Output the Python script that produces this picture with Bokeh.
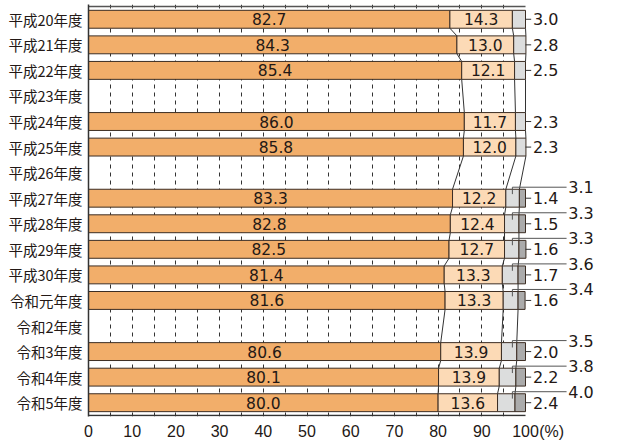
import math
from bokeh.plotting import figure
from bokeh.models import Range1d, FixedTicker, ColumnDataSource
from bokeh.embed import file_html
from bokeh.resources import INLINE
from bokeh.core.properties import value

NaN = float("nan")
years = ["平成20年度", "平成21年度", "平成22年度", "平成23年度", "平成24年度", "平成25年度",
         "平成26年度", "平成27年度", "平成28年度", "平成29年度", "平成30年度", "令和元年度",
         "令和2年度", "令和3年度", "令和4年度", "令和5年度"]
s1 = [82.7, 84.3, 85.4, NaN, 86.0, 85.8, NaN, 83.3, 82.8, 82.5, 81.4, 81.6, NaN, 80.6, 80.1, 80.0]
s2 = [14.3, 13.0, 12.1, NaN, 11.7, 12.0, NaN, 12.2, 12.4, 12.7, 13.3, 13.3, NaN, 13.9, 13.9, 13.6]
s3 = [3.0, 2.8, 2.5, NaN, 2.3, 2.3, NaN, 3.1, 3.3, 3.3, 3.6, 3.4, NaN, 3.5, 3.8, 4.0]
s4 = [NaN, NaN, NaN, NaN, NaN, NaN, NaN, 1.4, 1.5, 1.6, 1.7, 1.6, NaN, 2.0, 2.2, 2.4]
x_ticks = [0, 10, 20, 30, 40, 50, 60, 70, 80, 90, 100]
unit_label = "(%)"
grid_ticks = [5, 10, 15, 20, 25, 30, 35, 40, 45, 50, 55, 60, 65, 70, 75, 80, 85, 90, 95]

C1, C2, C3, C4 = "#F2AE6A", "#FCDAB6", "#DCDDDD", "#ABABAB"
EDGE = "#3C2D23"
TXT = "#231815"
NUMFONT = value("DejaVu Sans")
H = 0.7
UNIT_POS = 106

def isnan(v):
    return v is None or (isinstance(v, float) and math.isnan(v))

p = figure(width=628, height=443, frame_width=540, frame_height=412,
           min_border_left=88, min_border_right=0, min_border_top=4, min_border_bottom=27,
           x_range=Range1d(0, 540 / 4.37), y_range=Range1d(15.54, -0.578),
           output_backend="svg", toolbar_location=None)
p.outline_line_color = None
p.background_fill_color = "white"
p.border_fill_color = "white"

# grid
p.ygrid.grid_line_color = None
p.xgrid.ticker = FixedTicker(ticks=grid_ticks)
p.xgrid.grid_line_color = "#333333"
p.xgrid.grid_line_dash = "4 4"
p.xgrid.grid_line_width = 1

# x axis
p.xaxis.ticker = FixedTicker(ticks=x_ticks + [UNIT_POS])
p.xaxis.major_label_overrides = {UNIT_POS: unit_label}
p.xaxis.axis_line_color = None
p.xaxis.major_tick_line_color = None
p.xaxis.minor_tick_line_color = None
p.xaxis.major_tick_out = 0
p.xaxis.major_tick_in = 0
p.xaxis.major_label_standoff = 6
p.xaxis.major_label_text_font = "Liberation Sans"
p.xaxis.major_label_text_font_size = "16px"
p.xaxis.major_label_text_color = TXT

# y axis
p.yaxis.ticker = FixedTicker(ticks=list(range(len(years))))
p.yaxis.major_label_overrides = {i: y for i, y in enumerate(years)}
p.yaxis.axis_line_color = "#333333"
p.yaxis.axis_line_width = 1.5
p.yaxis.major_tick_line_color = None
p.yaxis.minor_tick_line_color = None
p.yaxis.major_tick_out = 0
p.yaxis.major_tick_in = 0
p.yaxis.major_label_standoff = 6
p.yaxis.major_label_text_font = "Noto Sans CJK JP"
p.yaxis.major_label_text_font_size = "14.5px"
p.yaxis.major_label_text_color = TXT

# top border and bottom axis line
p.segment(x0=[0], y0=[-0.5], x1=[100], y1=[-0.5], line_color="#555555", line_width=1.5)
p.segment(x0=[0], y0=[15.5], x1=[100], y1=[15.5], line_color="#333333", line_width=1.5)

rows = [i for i in range(len(years)) if not isnan(s1[i])]

# bars
segs = {k: dict(y=[], left=[], right=[]) for k in range(4)}
bounds = {}
for i in rows:
    vals = [s1[i], s2[i], s3[i]] + ([] if isnan(s4[i]) else [s4[i]])
    cum = 0.0
    bl = []
    for k, v in enumerate(vals):
        segs[k]["y"].append(i)
        segs[k]["left"].append(cum)
        cum += v
        segs[k]["right"].append(cum)
        bl.append(cum)
    bounds[i] = bl[:3]

for k, col in enumerate([C1, C2, C3, C4]):
    src = ColumnDataSource(segs[k])
    p.hbar(y="y", left="left", right="right", height=H, source=src,
           fill_color=col, line_color=EDGE, line_width=1)

# connectors between consecutive bars
cx0, cy0, cx1, cy1 = [], [], [], []
for a, b in zip(rows[:-1], rows[1:]):
    for k in range(3):
        cx0.append(bounds[a][k]); cy0.append(a + H / 2)
        cx1.append(bounds[b][k]); cy1.append(b - H / 2)
p.segment(x0=cx0, y0=cy0, x1=cx1, y1=cy1, line_color="#333333", line_width=1)

# in-bar labels
for k, ser in enumerate([s1, s2]):
    xs = [(l + r) / 2 for l, r in zip(segs[k]["left"], segs[k]["right"])]
    p.text(x=xs, y=segs[k]["y"], text=[f"{ser[i]:.1f}" for i in rows],
           text_font=NUMFONT, text_font_size="15.5px", text_align="center",
           text_baseline="middle", text_color=TXT)

# right labels (last segment, with short tick)
ry, rt = [], []
for i in rows:
    last = s3[i] if isnan(s4[i]) else s4[i]
    ry.append(i); rt.append(f"{last:.1f}")
p.segment(x0=[100] * len(ry), y0=ry, x1=[101.3] * len(ry), y1=ry, line_color="#333333", line_width=1)
p.text(x=[101.7] * len(ry), y=ry, text=rt, text_font=NUMFONT, text_font_size="16px",
       text_align="left", text_baseline="middle", text_color=TXT)

# leader labels for light gray segment when 4 segments
ly, lt = [], []
for i in rows:
    if not isnan(s4[i]):
        ly.append(i - 0.43); lt.append(f"{s3[i]:.1f}")
n = len(ly)
p.segment(x0=[97] * n, y0=ly, x1=[109.4] * n, y1=ly, line_color="#555555", line_width=1)
p.segment(x0=[97] * n, y0=ly, x1=[97] * n, y1=[y + 0.27 for y in ly], line_color="#555555", line_width=1)
p.text(x=[109.8] * n, y=ly, text=lt, text_font=NUMFONT, text_font_size="16px",
       text_align="left", text_baseline="middle", text_color=TXT)

open("out.html", "w").write(file_html(p, INLINE))
